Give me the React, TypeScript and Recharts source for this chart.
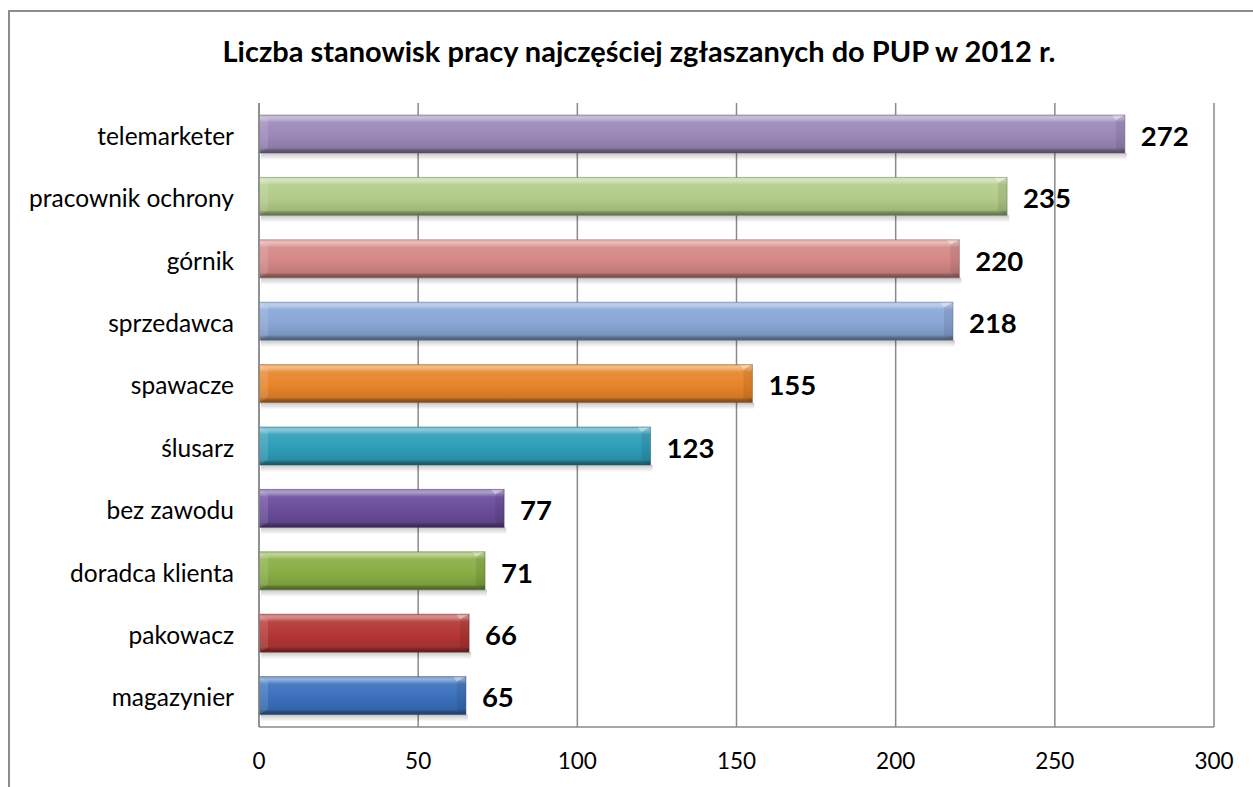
import React from 'react';
import { BarChart, Bar, XAxis, YAxis, CartesianGrid, LabelList } from 'recharts';

const categories = ['telemarketer', 'pracownik ochrony', 'górnik', 'sprzedawca', 'spawacze', 'ślusarz', 'bez zawodu', 'doradca klienta', 'pakowacz', 'magazynier'];
const values = [272, 235, 220, 218, 155, 123, 77, 71, 66, 65];
const barColors = ['#9b88b8', '#b2cc88', '#d48886', '#89a6d6', '#e8842a', '#2f9db9', '#6a4c9c', '#88ae44', '#b33634', '#3a70bc'];
const xTicks = [0, 50, 100, 150, 200, 250, 300];
const title = 'Liczba stanowisk pracy najczęściej zgłaszanych do PUP w 2012 r.';

const data = categories.map((c, i) => ({ category: c, value: values[i], color: barColors[i] }));

function mix(hex: string, target: string, t: number): string {
  const p = (h: string) => [parseInt(h.slice(1, 3), 16), parseInt(h.slice(3, 5), 16), parseInt(h.slice(5, 7), 16)];
  const a = p(hex);
  const b = p(target);
  const r = a.map((v, i) => Math.round(v + (b[i] - v) * t));
  return '#' + r.map((v) => v.toString(16).padStart(2, '0')).join('');
}

const GRID = '#8a8a8a';
const FONT = 'Lato, "Open Sans", sans-serif';

function BevelBar(props: any) {
  const { x, y, width, height, index, payload } = props;
  if (width <= 0) return null;
  const base: string = payload?.color ?? barColors[index ?? 0];
  const id = `grad-${index}`;
  const sid = `shadow-${index}`;
  const bev = 9;
  return (
    <g>
      <defs>
        <linearGradient id={id} x1="0" y1="0" x2="0" y2="1">
          <stop offset="0" stopColor={mix(base, '#ffffff', 0.35)} />
          <stop offset="0.08" stopColor={mix(base, '#ffffff', 0.45)} />
          <stop offset="0.2" stopColor={mix(base, '#ffffff', 0.08)} />
          <stop offset="0.55" stopColor={base} />
          <stop offset="0.86" stopColor={mix(base, '#000000', 0.1)} />
          <stop offset="0.93" stopColor={mix(base, '#000000', 0.35)} />
          <stop offset="1" stopColor={mix(base, '#000000', 0.45)} />
        </linearGradient>
        <linearGradient id={sid} x1="0" y1="0" x2="0" y2="1">
          <stop offset="0" stopColor="#000" stopOpacity={0.22} />
          <stop offset="1" stopColor="#000" stopOpacity={0} />
        </linearGradient>
      </defs>
      <rect x={x + 2} y={y + height} width={width} height={7} fill={`url(#${sid})`} />
      <rect x={x} y={y} width={width} height={height} fill={`url(#${id})`} />
      <polygon
        points={`${x},${y} ${x + bev},${y + 5} ${x + bev},${y + height - 5} ${x},${y + height}`}
        fill="#ffffff"
        fillOpacity={0.12}
      />
      <polygon
        points={`${x + width - bev},${y + 5} ${x + width},${y} ${x + width},${y + height} ${x + width - bev},${y + height - 5}`}
        fill="#000000"
        fillOpacity={0.08}
      />
      <polygon
        points={`${x + width - bev},${y + 5} ${x + width},${y} ${x + width - bev - 4},${y}`}
        fill="#ffffff"
        fillOpacity={0.35}
      />
      <rect x={x} y={y} width={width} height={height} fill="none" stroke={mix(base, '#000000', 0.4)} strokeOpacity={0.5} strokeWidth={1} />
    </g>
  );
}

export default function App() {
  return (
    <div style={{ position: 'fixed', left: 0, top: 0, width: 1253, height: 787, overflow: 'hidden', background: '#ffffff' }}>
      <div
        style={{
          position: 'absolute',
          left: 8,
          top: 10,
          width: 1300,
          height: 900,
          border: '2px solid #8c8c8c',
          boxSizing: 'border-box',
        }}
      />
      <div
        style={{
          position: 'absolute',
          left: 0,
          top: 34,
          width: 1278,
          textAlign: 'center',
          fontFamily: FONT,
          fontWeight: 700,
          fontSize: 29,
          color: '#000',
          lineHeight: '34px',
          whiteSpace: 'nowrap',
        }}
      >
        {title}
      </div>
      <div style={{ position: 'absolute', left: 0, top: 0 }}>
        <BarChart
          width={1253}
          height={787}
          data={data}
          layout="vertical"
          margin={{ top: 103, right: 39, bottom: 20, left: 9 }}
          barSize={38}
        >
          <CartesianGrid horizontal={false} vertical={true} stroke={GRID} strokeWidth={1.5} />
          <XAxis
            type="number"
            dataKey="value"
            domain={[0, 300]}
            ticks={xTicks}
            interval={0}
            height={40}
            axisLine={{ stroke: GRID, strokeWidth: 1.5 }}
            tickLine={false}
            tickSize={0}
            tickMargin={26}
            tick={{ fill: '#000', fontSize: 22.5, fontFamily: FONT }}
          />
          <YAxis
            type="category"
            dataKey="category"
            width={250}
            axisLine={{ stroke: GRID, strokeWidth: 1.5 }}
            tickLine={false}
            tickSize={0}
            tickMargin={25}
            interval={0}
            tick={{ fill: '#000', fontSize: 24.5, fontFamily: FONT, dy: 2 }}
          />
          <Bar dataKey="value" isAnimationActive={false} shape={<BevelBar />}>
            <LabelList
              dataKey="value"
              position="right"
              offset={16}
              fill="#000"
              dy={2}
              style={{ fontSize: 27.5, fontWeight: 700, fontFamily: FONT }}
            />
          </Bar>
        </BarChart>
      </div>
    </div>
  );
}
